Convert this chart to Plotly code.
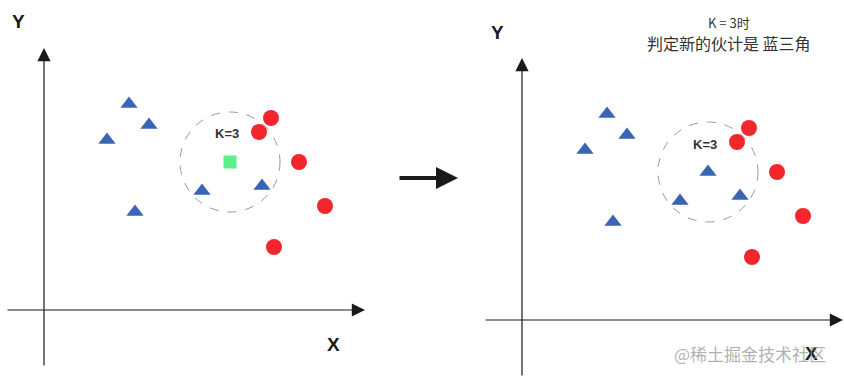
import plotly.graph_objects as go

# ---- data (units: axis origin at 0,0) ----
tri_x = [8.5, 10.5, 6.3, 15.8, 21.8, 9.1]
tri_y = [20.6, 18.5, 17.0, 11.9, 12.4, 9.8]
dot_x = [22.7, 21.5, 25.5, 28.1, 23.0]
dot_y = [19.2, 17.8, 14.8, 10.4, 6.3]
new_x = [18.6]
new_y = [14.8]
k_radius = 5.0
k_label = "K=3"
title_1 = "K = 3时"
title_2 = "判定新的伙计是 蓝三角"
watermark = "@稀土掘金技术社区"

W, H = 844, 378
XR = [-3.8, 32.1]
YR = [-5.7, 26.2]

BLUE = "#3a65b5"
RED = "#f3262c"
GREEN = "#5ef08c"
INK = "#1a1a1a"

def px(x):
    return x / W

def py(y):
    return 1 - y / H

fig = go.Figure()

panels = [("x", "y", False), ("x2", "y2", True)]
for xa, ya, classified in panels:
    fig.add_trace(go.Scatter(x=tri_x, y=tri_y, mode="markers", xaxis=xa, yaxis=ya,
                             marker=dict(symbol="triangle-up", size=15, color=BLUE), hoverinfo="skip"))
    fig.add_trace(go.Scatter(x=dot_x, y=dot_y, mode="markers", xaxis=xa, yaxis=ya,
                             marker=dict(symbol="circle", size=16, color=RED), hoverinfo="skip"))
    if classified:
        fig.add_trace(go.Scatter(x=new_x, y=new_y, mode="markers", xaxis=xa, yaxis=ya,
                                 marker=dict(symbol="triangle-up", size=15, color=BLUE), hoverinfo="skip"))
    else:
        fig.add_trace(go.Scatter(x=new_x, y=new_y, mode="markers", xaxis=xa, yaxis=ya,
                                 marker=dict(symbol="square", size=13, color=GREEN), hoverinfo="skip"))
    # dashed neighbourhood circle
    fig.add_shape(type="circle", xref=xa, yref=ya,
                  x0=new_x[0] - k_radius, x1=new_x[0] + k_radius,
                  y0=new_y[0] - k_radius, y1=new_y[0] + k_radius,
                  line=dict(color="#9a9a9a", width=1, dash="dash"))
    fig.add_annotation(x=new_x[0] - 0.3, y=new_y[0] + 2.9 - (0.1 if classified else 0), xref=xa, yref=ya,
                       text="<b>" + k_label + "</b>", showarrow=False,
                       font=dict(size=13, color="#333333", family="Liberation Sans"))
    # axes with arrows
    fig.add_annotation(x=XR[1], y=0, ax=XR[0], ay=0, xref=xa, yref=ya, axref=xa, ayref=ya,
                       text="", showarrow=True, arrowhead=2, arrowsize=2.2, arrowwidth=1.2,
                       arrowcolor=INK, standoff=0, startstandoff=0)
    fig.add_annotation(x=0, y=YR[1], ax=0, ay=YR[0], xref=xa, yref=ya, axref=xa, ayref=ya,
                       text="", showarrow=True, arrowhead=2, arrowsize=2.2, arrowwidth=1.2,
                       arrowcolor=INK, standoff=0, startstandoff=0)

axis_common = dict(showgrid=False, zeroline=False, showticklabels=False, ticks="", showline=False, fixedrange=True)
fig.update_layout(
    width=W, height=H,
    margin=dict(l=0, r=0, t=0, b=0),
    paper_bgcolor="white", plot_bgcolor="rgba(0,0,0,0)",
    showlegend=False,
    xaxis=dict(domain=[px(6), px(365)], range=XR, **axis_common),
    yaxis=dict(domain=[py(367), py(48)], range=YR, anchor="x", **axis_common),
    xaxis2=dict(domain=[px(484), px(843)], range=XR, anchor="y2", **axis_common),
    yaxis2=dict(domain=[py(377), py(58)], range=YR, anchor="x2", **axis_common),
)

label_font = dict(size=19, color=INK, family="Liberation Sans")
for text, x, y in [("<b>Y</b>", 18, 22), ("<b>X</b>", 333, 344), ("<b>Y</b>", 497, 32), ("<b>X</b>", 811, 353)]:
    fig.add_annotation(x=px(x), y=py(y), xref="paper", yref="paper", text=text, showarrow=False,
                       font=label_font, xanchor="center", yanchor="middle")

fig.add_annotation(x=px(729), y=py(23), xref="paper", yref="paper", text=title_1, showarrow=False,
                   font=dict(size=13, color="#333333", family="Noto Sans CJK SC"), xanchor="center", yanchor="middle")
fig.add_annotation(x=px(729), y=py(43), xref="paper", yref="paper", text=title_2, showarrow=False,
                   font=dict(size=16, color="#333333", family="Noto Sans CJK SC"), xanchor="center", yanchor="middle")

# big transition arrow
fig.add_annotation(x=px(458), y=py(178), ax=-60, ay=0, xref="paper", yref="paper",
                   axref="pixel", ayref="pixel", text="", showarrow=True, arrowhead=2, arrowsize=1.1,
                   arrowwidth=4, arrowcolor=INK, standoff=0)

# watermark
fig.add_annotation(x=px(750), y=py(353), xref="paper", yref="paper", text=watermark, showarrow=False,
                   font=dict(size=17, color="rgba(150,150,150,0.75)", family="Noto Sans CJK SC"),
                   xanchor="center", yanchor="middle")

fig.write_html("out.html")
